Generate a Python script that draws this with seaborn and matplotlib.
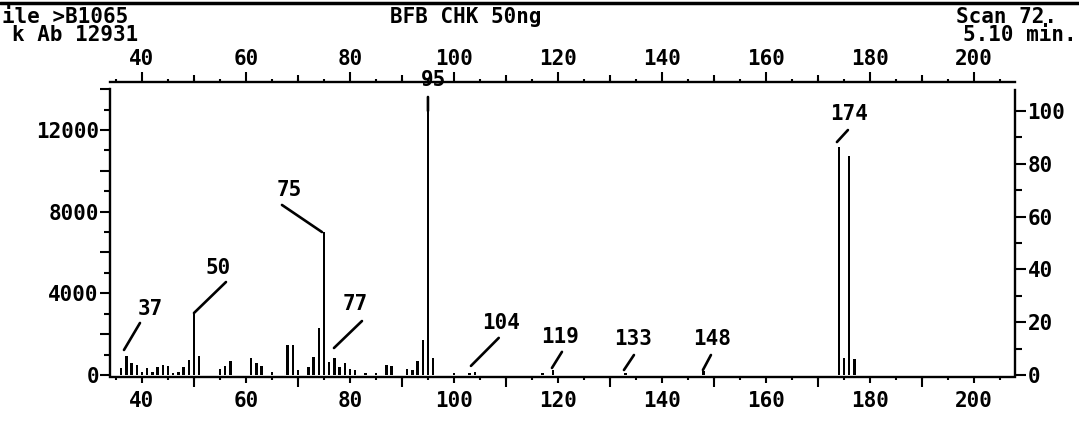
import matplotlib
matplotlib.use("Agg")
import matplotlib.pyplot as plt
from matplotlib.lines import Line2D
from matplotlib.ticker import FixedLocator, FuncFormatter, NullFormatter
from matplotlib.transforms import offset_copy
import pandas as pd
import seaborn as sns

# ---- scan data -------------------------------------------------------------
mz = [36, 37, 38, 39, 40, 41, 42, 43, 44, 45, 46, 47, 48, 49, 50, 51,
      55, 56, 57, 61, 62, 63, 65, 68, 69, 70, 72, 73, 74, 75, 76, 77,
      78, 79, 80, 81, 83, 85, 87, 88, 91, 92, 93, 94, 95, 96,
      100, 103, 104, 117, 119, 133, 148, 174, 175, 176, 177]
abundance = [350, 950, 600, 500, 150, 350, 150, 400, 500, 450, 100, 150,
             400, 750, 3000, 950,
             300, 450, 700, 850, 600, 450, 150, 1450, 1450, 250, 400, 900,
             2300, 7000, 650, 850,
             400, 600, 300, 250, 120, 120, 500, 450, 300, 250, 700, 1700,
             12931, 850,
             120, 120, 150, 120, 250, 120, 180, 11170, 850, 10730, 800]
base_peak = 12931
labeled_mz = [37, 50, 75, 77, 95, 104, 119, 133, 148, 174]

header_left = ["ile >B1065", "k Ab 12931"]
header_title = "BFB CHK 50ng"
header_right = ["Scan 72.", "5.10 min."]

# ---- label placement (pixel offsets from each peak top) ---------------------
# text centre, leader start, leader end
label_layout = {
    37:  ((23.6, 46.6), (13.6, 32.6), (-2.4, 5.6)),
    50:  ((24.0, 45.7), (32.0, 31.7), (0.0, 0.7)),
    75:  ((-35.0, 42.1), (-42.0, 27.1), (-2.0, 0.0)),
    77:  ((20.6, 53.6), (27.6, 36.6), (-0.4, 9.6)),
    95:  ((6.0, 31.0), (0.0, 14.0), (0.0, 0.0)),
    104: ((26.0, 49.0), (24.0, 34.0), (-3.8, 6.0)),
    119: ((7.2, 33.0), (9.2, 18.0), (-0.8, 1.9)),
    133: ((7.4, 33.5), (8.4, 17.5), (-1.6, 2.5)),
    148: ((8.4, 32.3), (7.4, 16.3), (-0.6, 1.3)),
    174: ((10.2, 32.9), (9.2, 16.9), (-1.8, 4.9)),
}

W, H = 1079, 424
FS = 15


def fx(px):
    return px / W


def fy(py):
    return 1 - py / H


sns.set_style("ticks")
plt.rcParams["font.family"] = ["DejaVu Sans Mono"]
plt.rcParams["font.weight"] = "bold"
plt.rcParams["font.size"] = FS
plt.rcParams["xtick.labelsize"] = FS
plt.rcParams["ytick.labelsize"] = FS
plt.rcParams["text.color"] = "black"
plt.rcParams["axes.edgecolor"] = "black"
plt.rcParams["xtick.color"] = "black"
plt.rcParams["ytick.color"] = "black"

fig = plt.figure(figsize=(W / 100, H / 100), dpi=100)
fig.patch.set_facecolor("white")
ax = fig.add_axes([fx(110), fy(377), fx(1015) - fx(110), fy(82) - fy(377)])
ax.set_facecolor("white")

df = pd.DataFrame({"mz": mz, "abundance": abundance})
sns.barplot(data=df, x="mz", y="abundance", native_scale=True, width=0.45,
            color="black", saturation=1, linewidth=0, errorbar=None, ax=ax)

ax.set_xlim(33.85, 207.9)
ax.set_ylim(-100, 14350)
ax.set_xlabel("")
ax.set_ylabel("")

for side in ["left", "right", "top", "bottom"]:
    ax.spines[side].set_visible(True)
    ax.spines[side].set_linewidth(1.7)
    ax.spines[side].set_color("black")
ax.spines["left"].set_bounds(0, 14000)
ax.spines["right"].set_bounds(0, 1.08 * base_peak)

# left abundance axis
ax.yaxis.set_major_locator(FixedLocator(range(0, 14001, 2000)))
ax.yaxis.set_major_formatter(FuncFormatter(lambda v, p: f"{int(v)}" if int(v) % 4000 == 0 else ""))
ax.yaxis.set_minor_locator(FixedLocator(range(1000, 14000, 2000)))
ax.tick_params(axis="y", which="major", direction="out", length=7, width=1.5, pad=1)
ax.tick_params(axis="y", which="minor", direction="out", length=4, width=1.5)

# bottom m/z axis
ax.xaxis.set_major_locator(FixedLocator(range(40, 201, 20)))
ax.xaxis.set_major_formatter(FuncFormatter(lambda v, p: f"{int(v)}"))
ax.xaxis.set_minor_locator(FixedLocator(range(35, 206, 5)))
ax.tick_params(axis="x", which="major", direction="out", length=4, width=1.5, pad=6)
ax.tick_params(axis="x", which="minor", direction="out", length=2.5, width=1.5)

bottom_long = ax.secondary_xaxis("bottom")
bottom_long.set_xticks(list(range(50, 191, 20)))
bottom_long.xaxis.set_major_formatter(NullFormatter())
bottom_long.tick_params(axis="x", direction="out", length=7, width=1.5)
for s in bottom_long.spines.values():
    s.set_visible(False)

# top m/z axis
top = ax.secondary_xaxis("top")
top.set_xticks(list(range(40, 201, 20)))
top.xaxis.set_major_formatter(FuncFormatter(lambda v, p: f"{int(v)}"))
top.xaxis.set_minor_locator(FixedLocator(range(35, 206, 5)))
top.tick_params(axis="x", which="major", direction="out", length=7, width=1.5, pad=2)
top.tick_params(axis="x", which="minor", direction="out", length=2, width=1.5)
for s in top.spines.values():
    s.set_visible(False)

top_mid = ax.secondary_xaxis("top")
top_mid.set_xticks(list(range(50, 191, 20)))
top_mid.xaxis.set_major_formatter(NullFormatter())
top_mid.tick_params(axis="x", direction="out", length=5, width=1.5)
for s in top_mid.spines.values():
    s.set_visible(False)

# right relative-abundance axis
rel = ax.secondary_yaxis("right", functions=(lambda a: a * 100.0 / base_peak,
                                             lambda p: p * base_peak / 100.0))
rel.set_yticks(list(range(0, 101, 20)))
rel.yaxis.set_major_formatter(FuncFormatter(lambda v, p: f"{int(round(v))}"))
rel.yaxis.set_minor_locator(FixedLocator(range(10, 100, 20)))
rel.tick_params(axis="y", which="major", direction="out", length=8, width=1.5, pad=1)
rel.tick_params(axis="y", which="minor", direction="out", length=5, width=1.5)
for s in rel.spines.values():
    s.set_visible(False)
ax.tick_params(axis="y", right=False)

# peak labels with leader lines
for m in labeled_mz:
    a = abundance[mz.index(m)]
    (tx, ty), (sx, sy), (ex, ey) = label_layout[m]
    end_tr = offset_copy(ax.transData, fig=fig, x=ex, y=ey, units="dots")
    ax.annotate("", xy=(m, a), xycoords=end_tr,
                xytext=(sx - ex, sy - ey), textcoords="offset pixels",
                arrowprops=dict(arrowstyle="-", lw=1.9, color="black",
                                shrinkA=0, shrinkB=0),
                annotation_clip=False)
    ax.annotate(str(m), xy=(m, a), xytext=(tx, ty), textcoords="offset pixels",
                ha="center", va="center", fontsize=FS, fontweight="bold",
                color="black", annotation_clip=False, zorder=5)

# header block
fig.add_artist(Line2D([0, 1], [fy(3), fy(3)], color="black", lw=2.5))
fig.text(fx(2), fy(17), header_left[0], ha="left", va="center")
fig.text(fx(12), fy(35), header_left[1], ha="left", va="center")
fig.text(fx(466), fy(17), header_title, ha="center", va="center")
fig.text(fx(956), fy(17), header_right[0], ha="left", va="center")
fig.text(fx(1077), fy(35), header_right[1], ha="right", va="center")

fig.savefig("out.png", dpi=100, facecolor="white")
